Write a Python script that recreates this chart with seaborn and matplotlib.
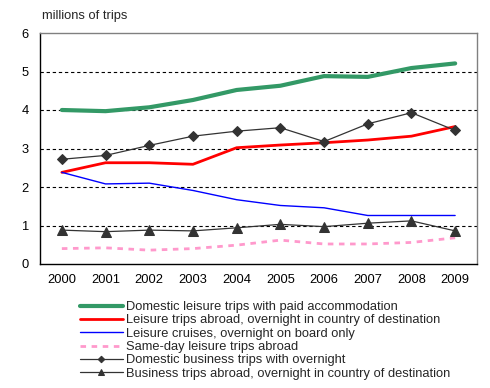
import matplotlib
matplotlib.use("Agg")
import matplotlib.pyplot as plt
import seaborn as sns
import numpy as np
from matplotlib.ticker import FixedLocator

# data (millions of trips)
years = [2000, 2001, 2002, 2003, 2004, 2005, 2006, 2007, 2008, 2009]
domestic_leisure_paid = [4.00, 3.97, 4.07, 4.26, 4.52, 4.63, 4.88, 4.86, 5.09, 5.21]
leisure_abroad_overnight = [2.38, 2.63, 2.63, 2.59, 3.02, 3.09, 3.15, 3.22, 3.32, 3.57]
leisure_cruises = [2.38, 2.08, 2.10, 1.91, 1.67, 1.52, 1.46, 1.26, 1.26, 1.26]
sameday_leisure_abroad = [0.40, 0.42, 0.36, 0.40, 0.49, 0.62, 0.52, 0.52, 0.56, 0.68]
domestic_business = [2.72, 2.82, 3.08, 3.32, 3.45, 3.54, 3.18, 3.64, 3.93, 3.47]
business_abroad = [0.88, 0.84, 0.88, 0.86, 0.94, 1.03, 0.97, 1.06, 1.12, 0.86]

labels = [
    "Domestic leisure trips with paid accommodation",
    "Leisure trips abroad, overnight in country of destination",
    "Leisure cruises, overnight on board only",
    "Same-day leisure trips abroad",
    "Domestic business trips with overnight",
    "Business trips abroad, overnight in country of destination",
]

sns.set_style("white")
plt.rcParams['font.family'] = ['Liberation Sans', 'DejaVu Sans']
fs = 9.3

fig = plt.figure(figsize=(4.9, 3.88), dpi=100)
ax = fig.add_axes([40 / 490, 1 - 264 / 388, 437 / 490, 231 / 388])

sns.lineplot(x=years, y=domestic_leisure_paid, ax=ax, color='#339966', lw=3.0, label=labels[0])
sns.lineplot(x=years, y=leisure_abroad_overnight, ax=ax, color='#FF0000', lw=2.0, label=labels[1])
sns.lineplot(x=years, y=leisure_cruises, ax=ax, color='#0000FF', lw=1.0, label=labels[2])
sns.lineplot(x=years, y=sameday_leisure_abroad, ax=ax, color='#FF99CC', lw=2.0,
             linestyle=(0, (2, 2)), label=labels[3])
sns.lineplot(x=years, y=domestic_business, ax=ax, color='#333333', lw=0.9, marker='D',
             markersize=5.5, markeredgecolor='#333333', label=labels[4])
sns.lineplot(x=years, y=business_abroad, ax=ax, color='#333333', lw=0.9, marker='^',
             markersize=6.5, markeredgecolor='#333333', label=labels[5])

ax.set_xlim(1999.5, 2009.5)
ax.set_ylim(0, 6)
ax.set_yticks(range(0, 7))
ax.set_xticks(years)
ax.set_xticklabels([str(y) for y in years])
ax.xaxis.set_minor_locator(FixedLocator(np.arange(1999.5, 2010, 1)))
ax.tick_params(axis='x', which='major', length=0, pad=7, labelsize=fs, colors='black')
ax.tick_params(axis='x', which='minor', length=4, width=0.8, direction='out', color='black')
ax.tick_params(axis='y', length=4, width=0.8, direction='out', pad=4, labelsize=fs, colors='black')
ax.set_xlabel('')
ax.set_ylabel('')

for yv in range(1, 6):
    ax.axhline(yv, color='black', lw=0.8, linestyle=(0, (3, 2.5)), zorder=0)

for side in ['left', 'bottom']:
    ax.spines[side].set_color('black')
    ax.spines[side].set_linewidth(1.0)
for side in ['top', 'right']:
    ax.spines[side].set_visible(True)
    ax.spines[side].set_color('#808080')
    ax.spines[side].set_linewidth(1.0)

fig.text(42 / 490, 1 - 16 / 388, "millions of trips", fontsize=fs, va='center', ha='left')

ax.legend(loc='upper left', bbox_to_anchor=(80 / 490, 1 - 301 / 388), bbox_transform=fig.transFigure,
          frameon=False, fontsize=fs, borderpad=0, borderaxespad=0, handlelength=3.3,
          handletextpad=0.25, labelspacing=0.1, markerscale=0.6)

fig.savefig("out.png", dpi=100)
